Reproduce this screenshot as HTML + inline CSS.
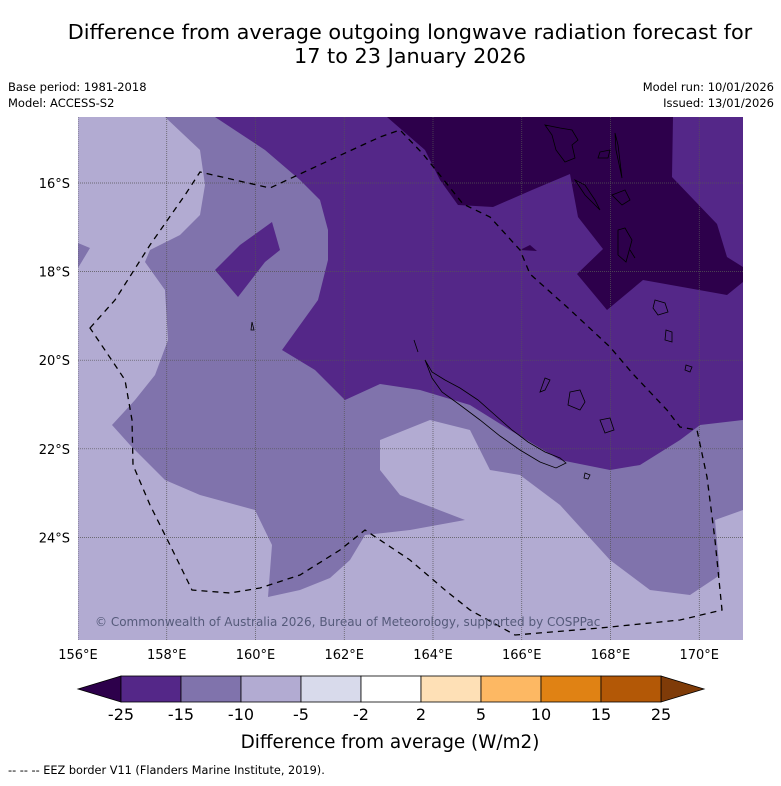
<!DOCTYPE html>
<html><head><meta charset="utf-8"><style>
body{margin:0;background:#fff;font-family:"Liberation Sans","DejaVu Sans",sans-serif}
svg text{font-family:"DejaVu Sans","Liberation Sans",sans-serif}
</style></head><body>
<svg id="c" width="781" height="781" viewBox="0 0 781 781" xmlns="http://www.w3.org/2000/svg">
<text x="410" y="39" font-size="20.8" text-anchor="middle">Difference from average outgoing longwave radiation forecast for</text>
<text x="410" y="63" font-size="20.8" text-anchor="middle">17 to 23 January 2026</text>
<text x="8" y="91" font-size="11.5">Base period: 1981-2018</text>
<text x="8" y="107" font-size="11.5">Model: ACCESS-S2</text>
<text x="774" y="91" font-size="11.5" text-anchor="end">Model run: 10/01/2026</text>
<text x="774" y="107" font-size="11.5" text-anchor="end">Issued: 13/01/2026</text>
<defs><clipPath id="mc"><rect x="78" y="117" width="665" height="523"/></clipPath></defs>
<g clip-path="url(#mc)">
<rect x="78" y="117" width="665" height="523" fill="#b2abd2"/>
<path fill="#8073ac" d="M165,117 L200,150 L205,185 L200,215 L180,235 L150,250 L145,262 L165,290 L168,340 L155,375 L135,400 L112,425 L130,445 L165,480 L200,495 L255,510 L272,545 L268,597 L300,590 L330,578 L350,560 L365,535 L410,530 L465,520 L400,495 L380,470 L380,440 L430,420 L470,430 L490,470 L520,475 L560,505 L610,560 L650,590 L690,595 L720,575 L715,520 L743,510 L743,117 Z M78,243 L90,248 L78,268 Z"/>
<path fill="#542788" d="M215,117 L265,150 L300,180 L320,200 L328,230 L328,260 L318,300 L282,350 L315,370 L345,400 L380,384 L420,390 L470,405 L510,430 L560,460 L610,470 L640,465 L680,440 L700,425 L743,420 L743,117 Z M215,270 L240,245 L272,222 L280,250 L265,262 L238,297 Z"/>
<path fill="#2d004b" d="M387,117 L425,150 L440,180 L458,205 L493,207 L532,190 L570,174 L578,217 L603,249 L577,274 L607,310 L643,280 L727,295 L743,282 L743,267 L727,257 L717,224 L672,177 L673,117 Z M520,250 L530,245 L537,251 Z"/>
<g id="grid"></g>
<path fill="none" stroke="#000" stroke-width="1.3" stroke-dasharray="6,5" d="M90,328 L115,300 L150,245 L185,195 L200,172 L270,188 L330,160 L380,137 L400,130 L423,154 L447,184 L463,204 L490,217 L520,250 L530,274 L567,307 L610,347 L633,374 L667,410 L680,427 L697,430 L707,477 L715,540 L722,610 L680,620 L600,628 L515,635 L470,610 L445,590 L410,560 L365,530 L340,550 L300,575 L260,588 L230,593 L192,590 L170,545 L150,505 L133,465 L132,420 L125,380 L115,365 Z"/>
<g fill="none" stroke="#000" stroke-width="0.8">
<path d="M414,340 L418,352 M425,360 L432,372 L445,380 L460,388 L478,400 L495,415 L512,430 L528,442 L545,452 L560,458 L566,463 L556,468 L540,462 L520,450 L500,436 L480,420 L460,405 L442,392 L432,378 Z"/>
<path d="M545,125 L552,135 L556,150 L565,162 L575,158 L572,145 L578,140 L572,130 L560,128 Z M600,152 L610,150 L608,158 L598,158 Z M615,133 L618,145 L622,178 L616,150 Z M575,180 L585,195 L595,205 L600,210 L595,200 L585,185 Z M612,195 L625,190 L630,200 L622,205 Z M618,230 L625,228 L632,240 L626,262 L618,255 Z M630,250 L635,258 M545,378 L550,380 L545,390 L540,392 Z M570,392 L580,390 L585,402 L580,410 L568,405 Z M600,420 L610,418 L614,430 L605,433 Z M655,300 L665,303 L668,312 L658,315 L653,308 Z M666,330 L672,332 L672,342 L665,340 Z M686,365 L692,367 L690,372 L685,370 Z M585,473 L590,475 L588,479 L584,478 Z M252,322 L254,330 L251,330 Z"/>
</g>
<text x="95" y="626" font-size="12" fill="#555a7a">© Commonwealth of Australia 2026, Bureau of Meteorology, supported by COSPPac</text>
</g>
<g id="axes"></g>
<g id="cbar"></g>
<text x="390" y="748" font-size="18.4" text-anchor="middle">Difference from average (W/m2)</text>
<text x="8" y="774" font-size="11.3">--  --  -- EEZ border V11 (Flanders Marine Institute, 2019).</text>
</svg>
<script>
const lonTicks=[156,158,160,162,164,166,168,170];
const latTicks=[16,18,20,22,24];
const cbBounds=[-25,-15,-10,-5,-2,2,5,10,15,25];
const cbColors=["#542788","#8073ac","#b2abd2","#d8daeb","#ffffff","#fee0b6","#fdb863","#e08214","#b35806"];
const cbExtColors=["#2d004b","#7f3b08"];
const NS="http://www.w3.org/2000/svg";
function xLon(l){return 78+(l-156)*44.375;}
function yLat(s){return 183+(s-16)*44.3;}
function mk(t,a,p){const e=document.createElementNS(NS,t);for(const k in a)e.setAttribute(k,a[k]);p.appendChild(e);return e;}
const grid=document.getElementById('grid'),axes=document.getElementById('axes'),cb=document.getElementById('cbar');
lonTicks.forEach(l=>{const x=xLon(l);
 const g=mk('line',{x1:x,x2:x,y1:117,y2:640,stroke:'#555',"stroke-width":0.7,"stroke-dasharray":"1,1"},grid);
 
 
 const t=mk('text',{x:x,y:659,"font-size":13,"text-anchor":"middle"},axes);t.textContent=l+'°E';
 
 });
latTicks.forEach(s=>{const y=yLat(s);
 const g=mk('line',{x1:78,x2:743,y1:y,y2:y,stroke:'#555',"stroke-width":0.7,"stroke-dasharray":"1,1"},grid);
 
 
 const t=mk('text',{x:70,y:y+5,"font-size":13,"text-anchor":"end"},axes);t.textContent=s+'°S';
 
 });
const cbL=121,cbR=661,cbT=676,cbB=702,n=cbColors.length,w=(cbR-cbL)/n;
function cbX(i){return cbL+i*w;}
const lt=mk('polygon',{points:`${cbL},${cbT} 78,${(cbT+cbB)/2} ${cbL},${cbB}`,fill:cbExtColors[0],stroke:'#000',"stroke-width":0.8},cb);


const rt=mk('polygon',{points:`${cbR},${cbT} 704,${(cbT+cbB)/2} ${cbR},${cbB}`,fill:cbExtColors[1],stroke:'#000',"stroke-width":0.8},cb);


cbColors.forEach((c,i)=>{const r=mk('rect',{x:cbX(i),y:cbT,width:w,height:cbB-cbT,fill:c,stroke:'#000',"stroke-width":0.8},cb);
 
 });
cbBounds.forEach((b,i)=>{const t=mk('text',{x:cbX(i),y:720,"font-size":16,"text-anchor":"middle"},cb);t.textContent=b;
 
 });
</script>
</body></html>
